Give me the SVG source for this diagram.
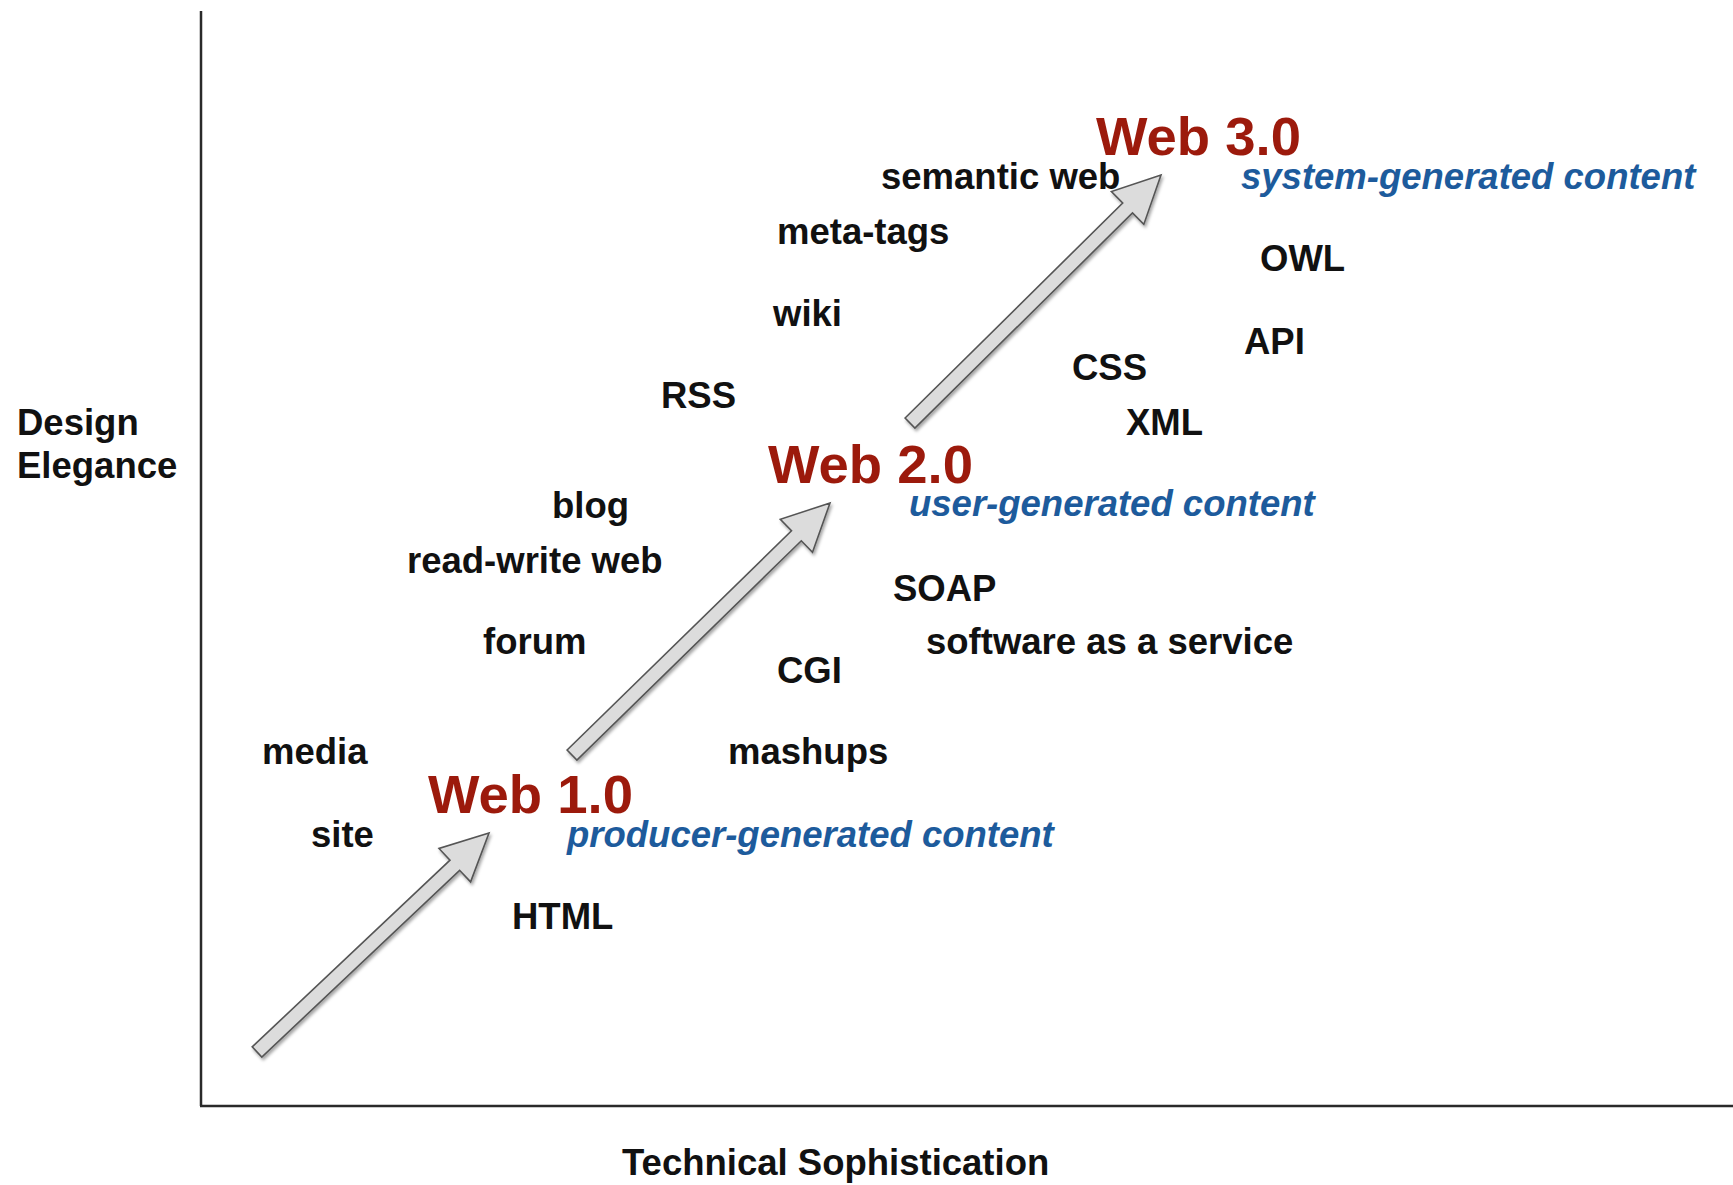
<svg xmlns="http://www.w3.org/2000/svg" width="1733" height="1185" viewBox="0 0 1733 1185">
<style>
  text { font-family: "Liberation Sans", Arial, Helvetica, sans-serif; font-weight: bold; }
  .lbl { font-size: 36.5px; fill: #111; }
  .era { font-size: 54.5px; fill: #9c1a0c; }
  .sub { font-size: 36.5px; fill: #1d5b9c; font-style: italic; }
  .axis { stroke: #2a2a2a; stroke-width: 2.5; fill: none; }
  .arrow { fill: #dcdcdc; stroke: #555; stroke-width: 1.6; stroke-linejoin: miter; filter: url(#shadow); }
</style>
<defs>
  <filter id="shadow" x="-20%" y="-20%" width="140%" height="140%">
    <feDropShadow dx="1.5" dy="2.5" stdDeviation="1.8" flood-color="#000" flood-opacity="0.35"/>
  </filter>
</defs>
<rect width="1733" height="1185" fill="#fff"/>
<g id="axes">
  <line class="axis" x1="201" y1="11" x2="201" y2="1106"/>
  <line class="axis" x1="200" y1="1106" x2="1733" y2="1106" stroke-width="3"/>
  <text class="lbl" x="17" y="435">Design</text>
  <text class="lbl" x="17" y="478">Elegance</text>
  <text class="lbl" x="622" y="1175">Technical Sophistication</text>
</g>
<g id="connectors">
  <polygon class="arrow" points="252.2,1046.9 450.0,860.1 439.0,848.5 489,833 470.6,881.9 459.6,870.3 261.8,1057.1"/>
  <polygon class="arrow" points="567.1,750.0 791.5,530.8 780.3,519.3 830,503 812.5,552.3 801.3,540.8 576.9,760.0"/>
  <polygon class="arrow" points="905.1,418.0 1122.7,203.0 1111.4,191.6 1161,175 1143.8,224.4 1132.5,213.0 914.9,428.0"/>
</g>
<g id="web1">
  <text class="era" x="428" y="813">Web 1.0</text>
  <text class="sub" x="567" y="847">producer-generated content</text>
</g>
<g id="web2">
  <text class="era" x="768" y="483">Web 2.0</text>
  <text class="sub" x="909" y="516">user-generated content</text>
</g>
<g id="web3">
  <text class="era" x="1096" y="155">Web 3.0</text>
  <text class="sub" x="1241" y="189">system-generated content</text>
</g>
<g id="terms">
  <g id="t-semantic"><text class="lbl" x="881" y="189">semantic web</text></g>
  <g id="t-meta"><text class="lbl" x="777" y="244">meta-tags</text></g>
  <g id="t-wiki"><text class="lbl" x="773" y="326">wiki</text></g>
  <g id="t-rss"><text class="lbl" x="661" y="408">RSS</text></g>
  <g id="t-css"><text class="lbl" x="1072" y="380">CSS</text></g>
  <g id="t-xml"><text class="lbl" x="1126" y="435">XML</text></g>
  <g id="t-owl"><text class="lbl" x="1260" y="271">OWL</text></g>
  <g id="t-api"><text class="lbl" x="1244" y="354">API</text></g>
  <g id="t-blog"><text class="lbl" x="552" y="518">blog</text></g>
  <g id="t-rww"><text class="lbl" x="407" y="573">read-write web</text></g>
  <g id="t-soap"><text class="lbl" x="893" y="601">SOAP</text></g>
  <g id="t-forum"><text class="lbl" x="483" y="654">forum</text></g>
  <g id="t-saas"><text class="lbl" x="926" y="654">software as a service</text></g>
  <g id="t-cgi"><text class="lbl" x="777" y="683">CGI</text></g>
  <g id="t-media"><text class="lbl" x="262" y="764">media</text></g>
  <g id="t-mashups"><text class="lbl" x="728" y="764">mashups</text></g>
  <g id="t-site"><text class="lbl" x="311" y="847">site</text></g>
  <g id="t-html"><text class="lbl" x="512" y="929">HTML</text></g>
</g>
</svg>
